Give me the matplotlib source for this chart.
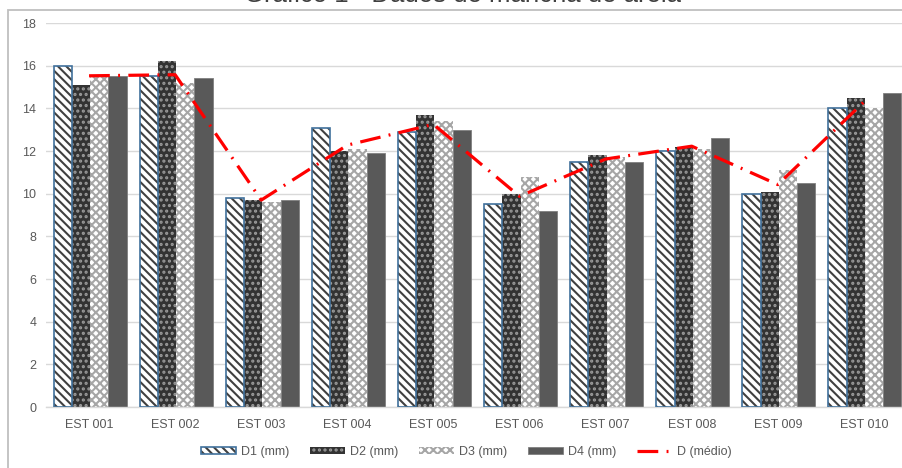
import matplotlib
matplotlib.use("Agg")
from matplotlib import pyplot as plt
from matplotlib import patches as mpatches
from matplotlib.lines import Line2D
import numpy as np

plt.rcParams['font.family'] = ['Liberation Sans', 'DejaVu Sans']
plt.rcParams['hatch.linewidth'] = 1.5

# mancha de areia, four readings per station (mm)
estacoes = ['EST 001', 'EST 002', 'EST 003', 'EST 004', 'EST 005',
            'EST 006', 'EST 007', 'EST 008', 'EST 009', 'EST 010']
d1 = [16.0, 15.5, 9.8, 13.1, 12.9, 9.5, 11.5, 12.0, 10.0, 14.0]
d2 = [15.1, 16.2, 9.7, 12.0, 13.7, 10.0, 11.8, 12.2, 10.1, 14.5]
d3 = [15.5, 15.2, 9.6, 12.1, 13.4, 10.8, 11.7, 12.1, 11.1, 14.0]
d4 = [15.5, 15.4, 9.7, 11.9, 13.0, 9.2, 11.5, 12.6, 10.5, 14.7]
d_medio = np.mean([d1, d2, d3, d4], axis=0)

fig = plt.figure(figsize=(9.02, 4.68), dpi=100)
ax = fig.add_axes([46/902, 1-407/468, 861/902, 384/468])

x = np.arange(len(estacoes))
w = 0.212
off = 0.012

HATCH1 = '\\\\\\\\'
HATCH2 = '...'
HATCH3 = 'xxxx'

# D1: diagonal stripes with blue outline
ax.bar(x + off - 1.5*w, d1, w, facecolor='white', edgecolor='#404040',
       hatch=HATCH1, linewidth=0, zorder=2)
ax.bar(x + off - 1.5*w, d1, w, fill=False, edgecolor='#41719C',
       linewidth=1.2, zorder=3)
# D2: dark with small dots
ax.bar(x + off - 0.5*w, d2, w, facecolor='#333333', edgecolor='#9a9a9a',
       hatch=HATCH2, linewidth=0, zorder=2)
# D3: light diamond lattice
ax.bar(x + off + 0.5*w, d3, w, facecolor='white', edgecolor='#a6a6a6',
       hatch=HATCH3, linewidth=0, zorder=2)
# D4: solid grey
ax.bar(x + off + 1.5*w, d4, w, facecolor='#595959', edgecolor='#7f7f7f',
       linewidth=0.6, zorder=2)

ax.plot(x, d_medio, color='#ff0000', linewidth=2.3, dashes=(6.5, 2.6, 0.6, 2.6),
        dash_capstyle='butt', zorder=5)

ax.set_xlim(-0.5, len(estacoes) - 0.5)
ax.set_ylim(0, 18)
ax.set_yticks(np.arange(0, 19, 2))
ax.set_xticks(x)
ax.set_xticklabels(estacoes)
ax.tick_params(axis='both', length=0, labelsize=9, labelcolor='#595959')
ax.tick_params(axis='y', pad=7)
ax.tick_params(axis='x', pad=9)
ax.grid(axis='y', color='#d9d9d9', linewidth=1.0, zorder=0)
ax.set_axisbelow(True)
for s in ['left', 'right', 'top']:
    ax.spines[s].set_visible(False)
ax.spines['bottom'].set_color('#d9d9d9')
ax.spines['bottom'].set_linewidth(1.0)

# legend
h1 = (mpatches.Patch(facecolor='white', edgecolor='#404040', hatch=HATCH1, linewidth=0),
      mpatches.Patch(fill=False, edgecolor='#41719C', linewidth=1.2))
h2 = mpatches.Patch(facecolor='#333333', edgecolor='#9a9a9a', hatch=HATCH2, linewidth=0)
h3 = mpatches.Patch(facecolor='white', edgecolor='#a6a6a6', hatch=HATCH3, linewidth=0)
h4 = mpatches.Patch(facecolor='#595959', edgecolor='#7f7f7f', linewidth=0.6)
h5 = Line2D([], [], color='#ff0000', linewidth=2.3, dashes=(6.5, 2.6, 0.6, 2.6))
leg = fig.legend([h1, h2, h3, h4, h5],
                 ['D1 (mm)', 'D2 (mm)', 'D3 (mm)', 'D4 (mm)', 'D (médio)'],
                 loc='center', bbox_to_anchor=(0.517, 1-452/468), ncol=5,
                 frameon=False, fontsize=9, handlelength=2.8, handleheight=0.4,
                 handletextpad=0.4, columnspacing=1.66)
for t in leg.get_texts():
    t.set_color('#595959')

# chart frame and title
fig.patches.append(mpatches.Rectangle((8/902, -0.1), 1.2, 1.1 - 10/468,
                                      transform=fig.transFigure, fill=False,
                                      edgecolor='#bfbfbf', linewidth=1.3))
fig.text(463/902, 1 - 1.5/468, 'Gráfico 1 - Dados de mancha de areia',
         ha='center', va='baseline', fontsize=18.5, color='#404040')

fig.savefig('out.png', dpi=100)
